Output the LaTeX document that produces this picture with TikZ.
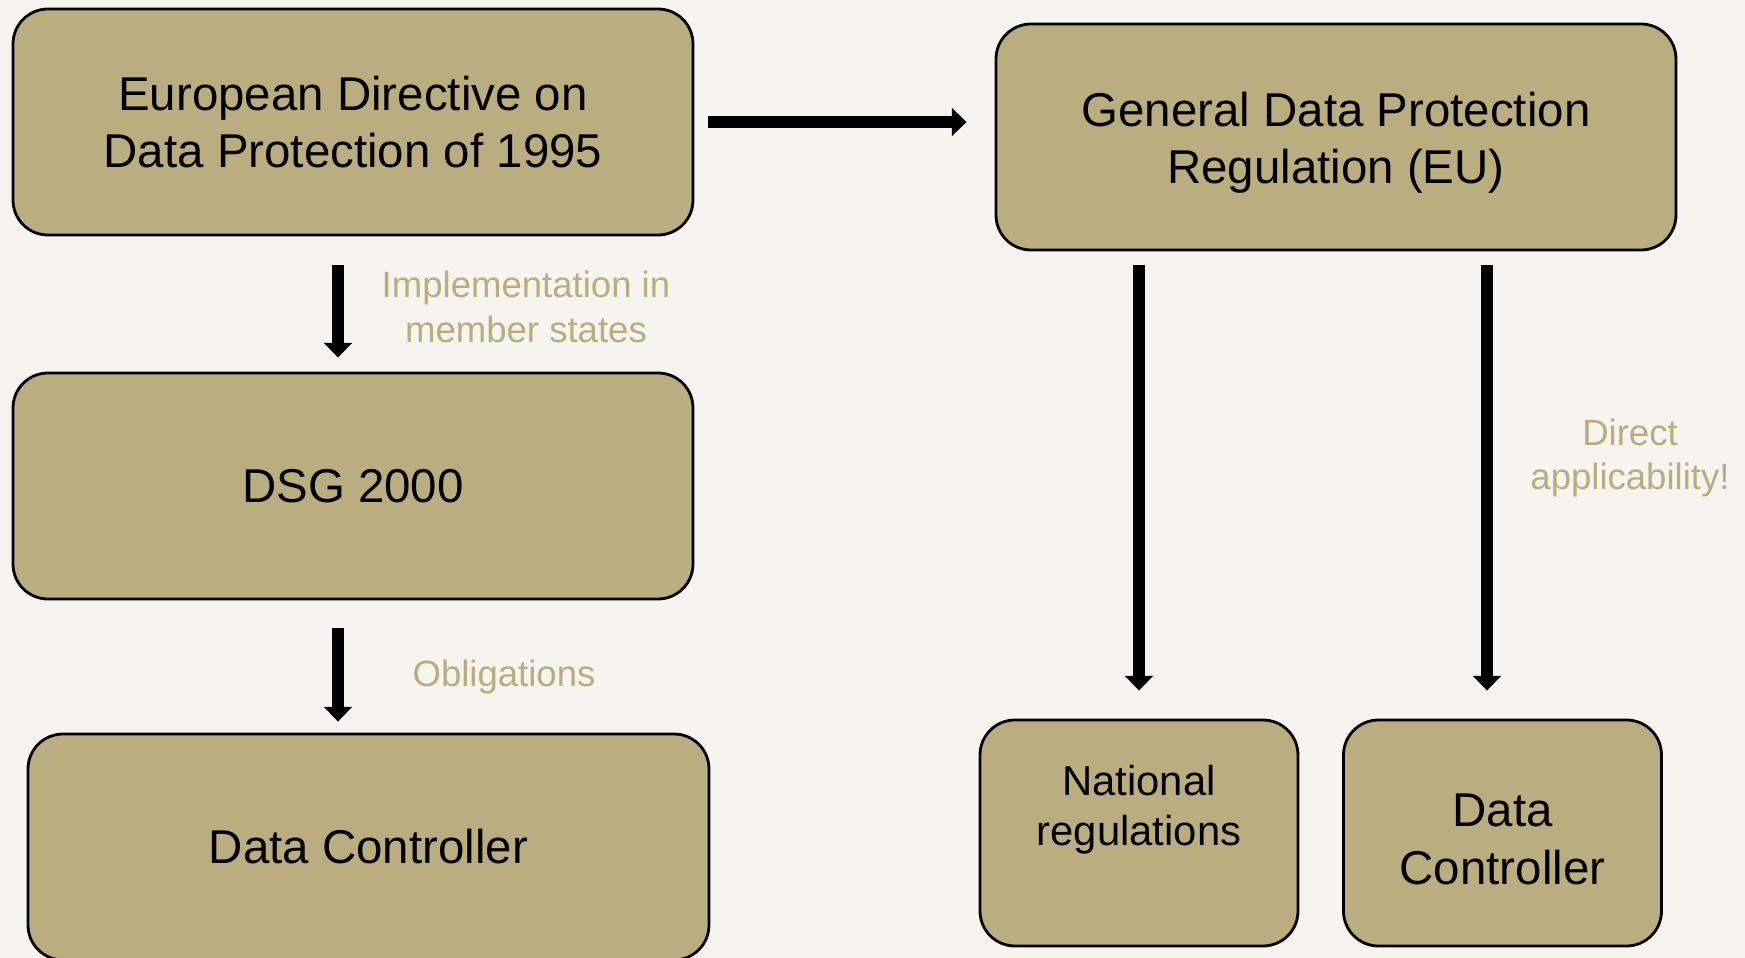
\documentclass[tikz,border=0pt]{standalone}
\usepackage{fontspec}
\setmainfont{Liberation Sans}
\usepackage{xcolor}
\usepackage{tikz}
\usetikzlibrary{arrows.meta, positioning}

\definecolor{boxtan}{HTML}{BAAE80}
\definecolor{notetan}{HTML}{B9AD7F}
\definecolor{paper}{HTML}{F5F4EF}

\begin{document}
\begin{tikzpicture}[
  box/.style={draw=black, line width=0.8pt, fill=boxtan, rounded corners=0.35cm,
    minimum width=6.8cm, minimum height=2.26cm, align=center,
    font=\fontsize{13.5}{16.4}\selectfont},
  smallbox/.style={box, minimum width=3.18cm},
  note/.style={text=notetan, align=center, font=\fontsize{10.4}{12.6}\selectfont},
  bigarrow/.style={line width=3.4pt, -{Triangle[width=7.8pt,length=4.2pt]}}
]

% Fundo
\useasboundingbox (0,0) rectangle (17.45,-9.58);
\fill[paper] (0,0) rectangle (17.45,-9.58);

% Lado esquerdo: diretiva
\node[box] (directive) at (3.53,-1.22) {European Directive on\\Data Protection of 1995};
\node[box] (dsg) at (3.53,-4.86) {DSG 2000};
\node[box, minimum width=6.81cm] (controller) at (3.685,-8.47) {Data Controller};

% Lado direito: regulamento
\node[box] (gdpr) at (13.36,-1.37) {\rule{0pt}{0.46cm}General Data Protection\\Regulation (EU)};
\node[smallbox, font=\fontsize{11.9}{14.2}\selectfont] (national) at (11.39,-8.33) {National\\regulations\\[0.06cm]\mbox{}};
\node[smallbox] (gdprcontroller) at (15.025,-8.33) {\rule{0pt}{0.46cm}Data\\Controller};

% Setas
\draw[bigarrow] ([xshift=0.14cm]directive.east) -- ([xshift=-0.28cm]directive.east -| gdpr.west);
\draw[bigarrow] ([xshift=-0.15cm,yshift=-0.29cm]directive.south) -- ([xshift=-0.15cm,yshift=0.14cm]dsg.north);
\draw[bigarrow] ([xshift=-0.15cm,yshift=-0.28cm]dsg.south) -- ([xshift=-0.305cm,yshift=0.11cm]controller.north);
\draw[bigarrow] ([yshift=-0.14cm]gdpr.south -| national.north) -- ([yshift=0.28cm]national.north);
\draw[bigarrow] ([xshift=-0.155cm,yshift=-0.14cm]gdpr.south -| gdprcontroller.north) -- ([xshift=-0.155cm,yshift=0.28cm]gdprcontroller.north);

% Textos das setas
\node[note] (implnote) at (5.26,-3.07) {Implementation in\\member states};
\node[note] (oblignote) at (5.04,-6.77) {Obligations};
\node[note] (directnote) at (16.30,-4.58) {Direct\\applicability!};

\end{tikzpicture}
\end{document}
